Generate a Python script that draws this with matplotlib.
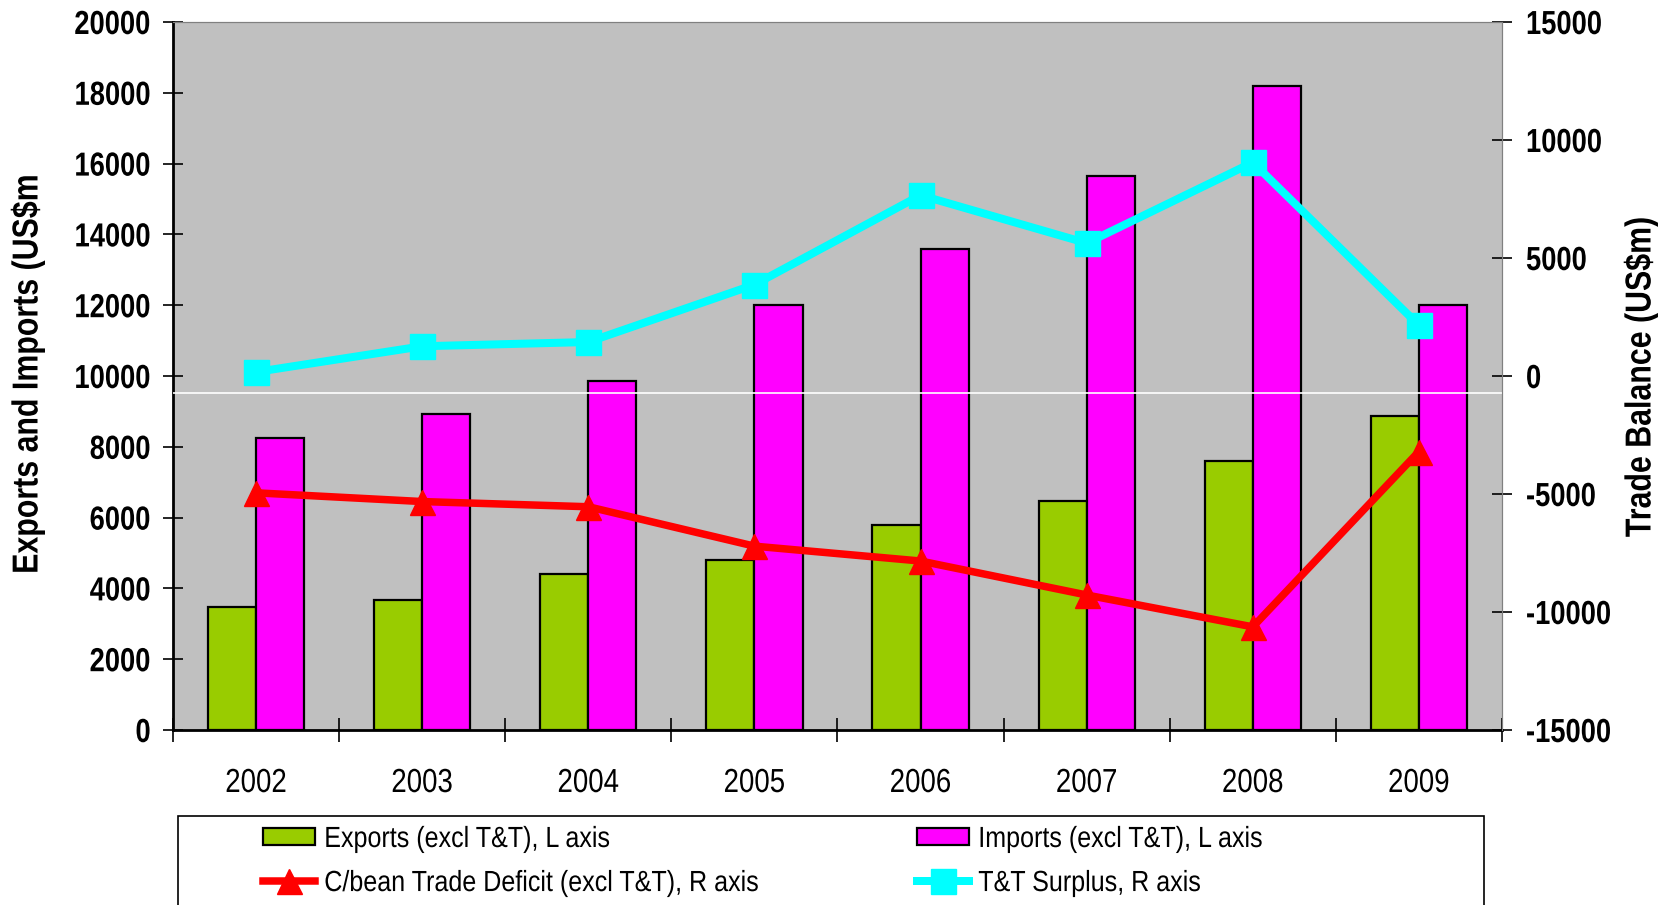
import numpy as np
import matplotlib
matplotlib.use('Agg')
import matplotlib.pyplot as plt
from matplotlib.patches import Rectangle
from matplotlib.patheffects import AbstractPathEffect
from matplotlib.transforms import Affine2D

# Caribbean trade (excl T&T) vs T&T surplus, US$m
YEARS=['2002','2003','2004','2005','2006','2007','2008','2009']
EXPORTS=[3470,3670,4400,4800,5800,6480,7600,8860]
IMPORTS=[8260,8930,9850,12000,13600,15650,18200,12000]
DEFICIT=[-4950,-5320,-5540,-7210,-7840,-9280,-10630,-3200]
TT_SURPLUS=[170,1260,1440,3870,7660,5630,9050,2150]

LEFT_TICKS=list(range(0,20001,2000))
RIGHT_TICKS=list(range(-15000,15001,5000))

W,H=1665,905
DPI=100
SANS=['Liberation Sans','DejaVu Sans']

GREEN='#99CC00'
MAGENTA='#FF00FF'
RED='#FF0000'
CYAN='#00FFFF'
FACE='#C0C0C0'

def px(v:float)->float:
  return v*72.0/DPI

class Squeeze(AbstractPathEffect):
  """ Narrow glyphs along the text direction, keeping the aligned edge fixed """
  def __init__(self, s:float, anchor:str='left'):
    super().__init__()
    self.s=s
    self.anchor=anchor

  def draw_path(self, renderer, gc, tpath, affine, rgbFace=None):
    xs=tpath.vertices[:,0] if len(tpath.vertices) else np.array([0.0])
    x0={'left':xs.min(),'right':xs.max(),'center':0.5*(xs.min()+xs.max())}[self.anchor]
    pre=Affine2D().translate(-x0,0).scale(self.s,1).translate(x0,0)
    renderer.draw_path(gc,tpath,pre+affine,rgbFace)

def narrow(texts, s:float, anchor:str, **props):
  for t in texts:
    t.set(**props)
    t.set_path_effects([Squeeze(s,anchor)])

fig=plt.figure(figsize=(W/DPI,H/DPI),dpi=DPI)
ax=fig.add_axes([173/W,1-730/H,(1502-173)/W,(730-22)/H])
ax.set_facecolor(FACE)
ax2=ax.twinx()

x=np.arange(len(YEARS))
bw=0.29
b1=ax.bar(x-bw/2,EXPORTS,bw,color=GREEN,edgecolor='black',linewidth=1.6,zorder=2)
b2=ax.bar(x+bw/2,IMPORTS,bw,color=MAGENTA,edgecolor='black',linewidth=1.6,zorder=2)
ax.axhline(9520,color='white',lw=1.2,zorder=4)

l1,=ax2.plot(x,DEFICIT,color=RED,lw=px(7.5),marker='^',ms=px(25),zorder=3)
l2,=ax2.plot(x,TT_SURPLUS,color=CYAN,lw=px(8),marker='s',ms=px(25),zorder=3)

ax.set_xlim(-0.5,len(YEARS)-0.5)
ax.set_ylim(0,20000)
ax2.set_ylim(-15000,15000)

ax.set_yticks(LEFT_TICKS)
ax.set_yticklabels([str(v) for v in LEFT_TICKS])
ax2.set_yticks(RIGHT_TICKS)
ax2.set_yticklabels([str(v) for v in RIGHT_TICKS])

# year labels at centres, tick marks between categories
ax.set_xticks(x)
ax.set_xticklabels(YEARS)
ax.set_xticks(np.arange(len(YEARS)+1)-0.5,minor=True)
ax.tick_params(axis='x',which='major',length=0,pad=px(38))
ax.tick_params(axis='x',which='minor',length=px(24),width=1.2,direction='inout')
ax.tick_params(axis='y',length=px(20),width=1.2,direction='inout',pad=px(12))
ax2.tick_params(axis='y',length=px(20),width=1.2,direction='inout',pad=px(14))

narrow(ax.get_xticklabels(),0.83,'center',family=SANS,fontsize=24)
narrow(ax.get_yticklabels(),0.82,'right',family=SANS,fontsize=24,fontweight='bold')
narrow(ax2.get_yticklabels(),0.82,'left',family=SANS,fontsize=24,fontweight='bold')

for s in ('top','right'):
  ax.spines[s].set_color('#808080')
  ax2.spines[s].set_color('#808080')
ax.spines['left'].set_linewidth(2)
ax.spines['bottom'].set_linewidth(2)
ax2.spines['left'].set_visible(False)
ax2.spines['bottom'].set_visible(False)

yl=fig.text(28/W,1-374/H,'Exports and Imports (US$m',rotation=90,ha='center',va='center')
yr=fig.text(1641/W,1-377/H,'Trade Balance (US$m)',rotation=90,ha='center',va='center')
narrow([yl,yr],0.84,'center',family=SANS,fontsize=26,fontweight='bold')

# legend box runs off the bottom edge
fig.add_artist(Rectangle((178/W,-0.05),(1484-178)/W,0.05+1-816/H,transform=fig.transFigure,
                         facecolor='white',edgecolor='black',lw=1.2,zorder=1))
leg_kw=dict(frameon=False,borderpad=0,borderaxespad=0,prop={'family':SANS,'size':21},
            handlelength=1.8,handleheight=0.55,handletextpad=0.3,labelspacing=0.55,
            loc='upper left')
lg1=fig.legend([b1,l1],['Exports (excl T&T), L axis','C/bean Trade Deficit (excl T&T), R axis'],
               bbox_to_anchor=(263/W,1-825/H),**leg_kw)
lg2=fig.legend([b2,l2],['Imports (excl T&T), L axis','T&T Surplus, R axis'],
               bbox_to_anchor=(917/W,1-825/H),**leg_kw)
for lg in (lg1,lg2):
  lg.set_zorder(2)
  narrow(lg.get_texts(),0.86,'left')

fig.savefig('out.png',dpi=DPI)
